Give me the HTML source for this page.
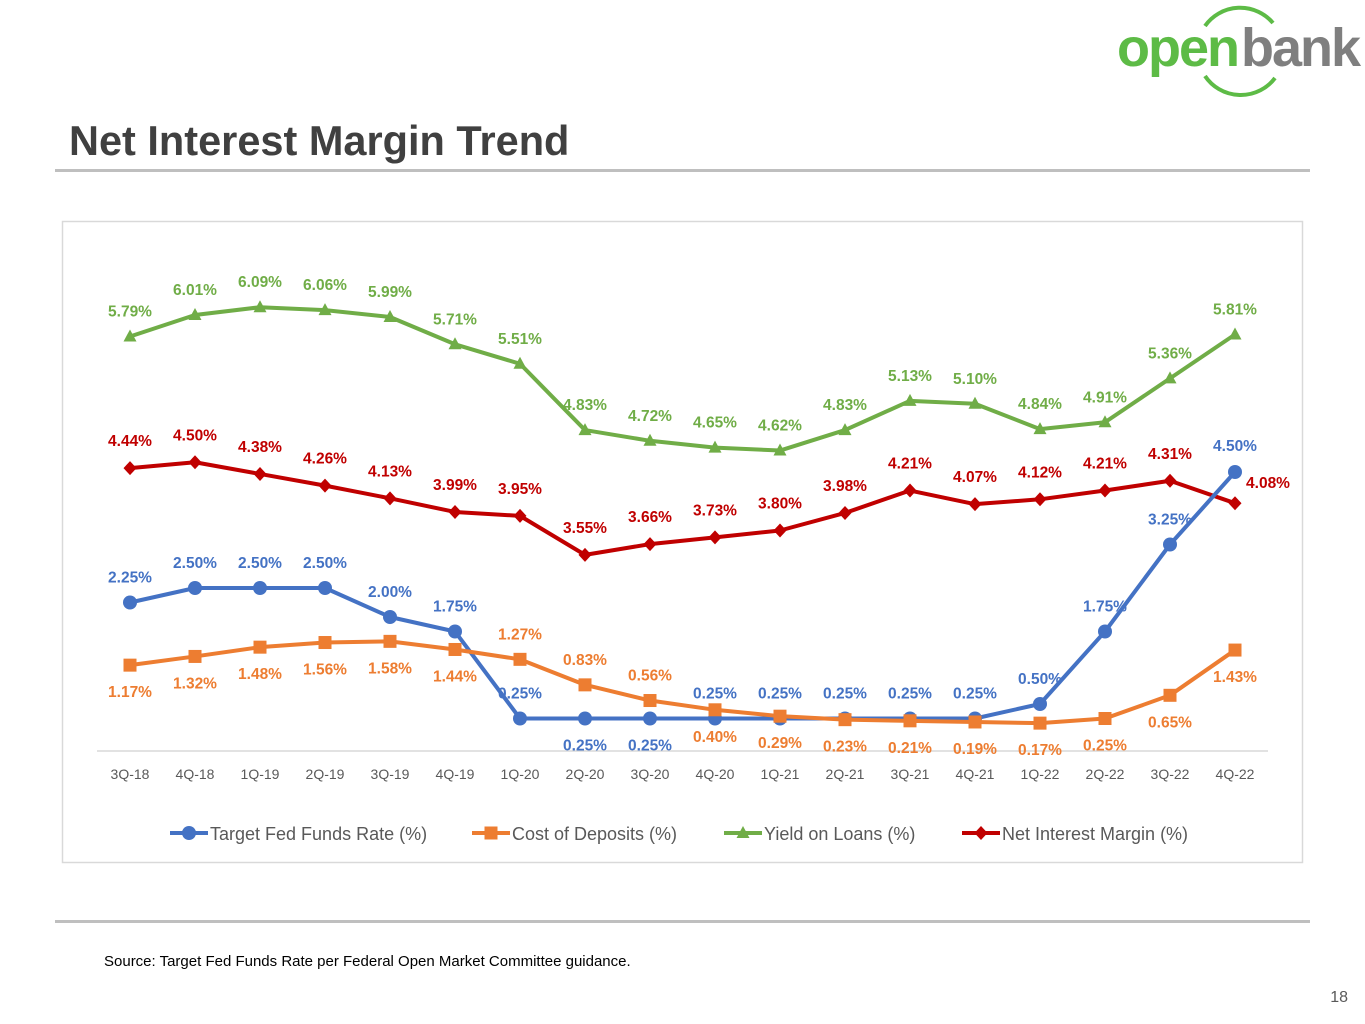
<!DOCTYPE html>
<html><head><meta charset="utf-8">
<style>
body{margin:0;width:1365px;height:1024px;background:#fff;overflow:hidden;font-family:"Liberation Sans",sans-serif;position:relative}
</style></head>
<body>
<svg width="1365" height="1024" style="position:absolute;left:0;top:0">
  <g>
    <path d="M1205,26 A43,43 0 0 1 1273,23" stroke="#5DBB46" stroke-width="4" fill="none"/>
    <path d="M1205,76 A43,43 0 0 0 1275,78" stroke="#5DBB46" stroke-width="4" fill="none"/>
    <text x="1117" y="66" font-size="54" font-weight="bold" letter-spacing="-2" fill="#5DBB46" font-family="Liberation Sans, sans-serif">open</text>
    <text x="1241" y="66" font-size="54" font-weight="bold" letter-spacing="-2" fill="#7F7F7F" font-family="Liberation Sans, sans-serif">bank</text>
  </g>
  <text x="69" y="155" font-size="41.5" font-weight="bold" fill="#404040">Net Interest Margin Trend</text>
  <rect x="55" y="169" width="1255" height="3" fill="#BFBFBF"/>
  <rect x="62.5" y="221.5" width="1240" height="641" fill="#fff" stroke="#D9D9D9" stroke-width="1.5"/>
  <line x1="97" y1="751" x2="1268" y2="751" stroke="#D9D9D9" stroke-width="1.5"/>
  <g id="plot"></g>
  <g id="legend"></g>
  <rect x="55" y="920" width="1255" height="3" fill="#BFBFBF"/>
  <text x="104" y="966" font-size="15" fill="#000">Source: Target Fed Funds Rate per Federal Open Market Committee guidance.</text>
  <text x="1348" y="1002" font-size="16" fill="#595959" text-anchor="end">18</text>
</svg>
<script>
const categories=["3Q-18","4Q-18","1Q-19","2Q-19","3Q-19","4Q-19","1Q-20","2Q-20","3Q-20","4Q-20","1Q-21","2Q-21","3Q-21","4Q-21","1Q-22","2Q-22","3Q-22","4Q-22"];
const fedFunds=[2.25,2.50,2.50,2.50,2.00,1.75,0.25,0.25,0.25,0.25,0.25,0.25,0.25,0.25,0.50,1.75,3.25,4.50];
const costDeposits=[1.17,1.32,1.48,1.56,1.58,1.44,1.27,0.83,0.56,0.40,0.29,0.23,0.21,0.19,0.17,0.25,0.65,1.43];
const yieldLoans=[5.79,6.01,6.09,6.06,5.99,5.71,5.51,4.83,4.72,4.65,4.62,4.83,5.13,5.10,4.84,4.91,5.36,5.81];
const nim=[4.44,4.50,4.38,4.26,4.13,3.99,3.95,3.55,3.66,3.73,3.80,3.98,4.21,4.07,4.12,4.21,4.31,4.08];
const seriesNames=["Target Fed Funds Rate (%)","Cost of Deposits (%)","Yield on Loans (%)","Net Interest Margin (%)"];

const NS="http://www.w3.org/2000/svg";
const plot=document.getElementById('plot');
const xScale=i=>130+i*65;
const yPrimary=v=>901-v*97.5;
const ySecondary=v=>733-v*58;
function mk(tag,attrs,parent){const e=document.createElementNS(NS,tag);for(const k in attrs)e.setAttribute(k,attrs[k]);parent.appendChild(e);return e;}

categories.forEach((c,i)=>{
  const t=mk('text',{x:xScale(i),y:779,'font-size':14,fill:'#595959','text-anchor':'middle'},plot);
  t.textContent=c;
  
  
});

function marker(type,x,y,color,g){
  let m;
  if(type==='circle') m=mk('circle',{cx:x,cy:y,r:7,fill:color},g);
  else if(type==='square') m=mk('rect',{x:x-6.5,y:y-6.5,width:13,height:13,fill:color},g);
  else if(type==='triangle') m=mk('polygon',{points:`${x},${y-7} ${x+6.5},${y+5} ${x-6.5},${y+5}`,fill:color},g);
  else m=mk('polygon',{points:`${x},${y-7} ${x+6.5},${y} ${x},${y+7} ${x-6.5},${y}`,fill:color},g);
  return m;
}

function drawSeries(vals,yf,color,type,name,labelOff){
  const g=mk('g',{},plot);
  
  
  const pts=vals.map((v,i)=>xScale(i)+','+yf(v)).join(' ');
  mk('polyline',{points:pts,fill:'none',stroke:color,'stroke-width':4,'stroke-linejoin':'round'},g);
  vals.forEach((v,i)=>{
    const m=marker(type,xScale(i),yf(v),color,g);
    
    
    const o=labelOff(i);
    const t=mk('text',{x:xScale(i)+o[0],y:yf(v)+o[1],'font-size':15.5,'font-weight':'bold',fill:color,'text-anchor':'middle'},g);
    t.textContent=v.toFixed(2)+'%';
    
    
  });
}
drawSeries(yieldLoans,yPrimary,'#70AD47','triangle','series-yield-on-loans',i=>[0,-20]);
drawSeries(nim,yPrimary,'#C00000','diamond','series-net-interest-margin',i=>i===17?[33,-15]:[0,-22]);
drawSeries(fedFunds,ySecondary,'#4472C4','circle','series-target-fed-funds',i=>(i===7||i===8)?[0,32]:(i===17?[0,-21]:[0,-20]));
drawSeries(costDeposits,ySecondary,'#ED7D31','square','series-cost-of-deposits',i=>(i>=6&&i<=8)?[0,-20]:[0,32]);

const lg=document.getElementById('legend');
const legendColors=['#4472C4','#ED7D31','#70AD47','#C00000'];
const legendTypes=['circle','square','triangle','diamond'];
const legendX=[170,472,724,962];
seriesNames.forEach((n,i)=>{
  const g=mk('g',{},lg);
  
  
  const x=legendX[i];
  mk('line',{x1:x,y1:833,x2:x+38,y2:833,stroke:legendColors[i],'stroke-width':4},g);
  marker(legendTypes[i],x+19,833,legendColors[i],g);
  const t=mk('text',{x:x+40,y:840,'font-size':18,fill:'#595959'},g);
  t.textContent=n;
});
</script>
</body></html>
